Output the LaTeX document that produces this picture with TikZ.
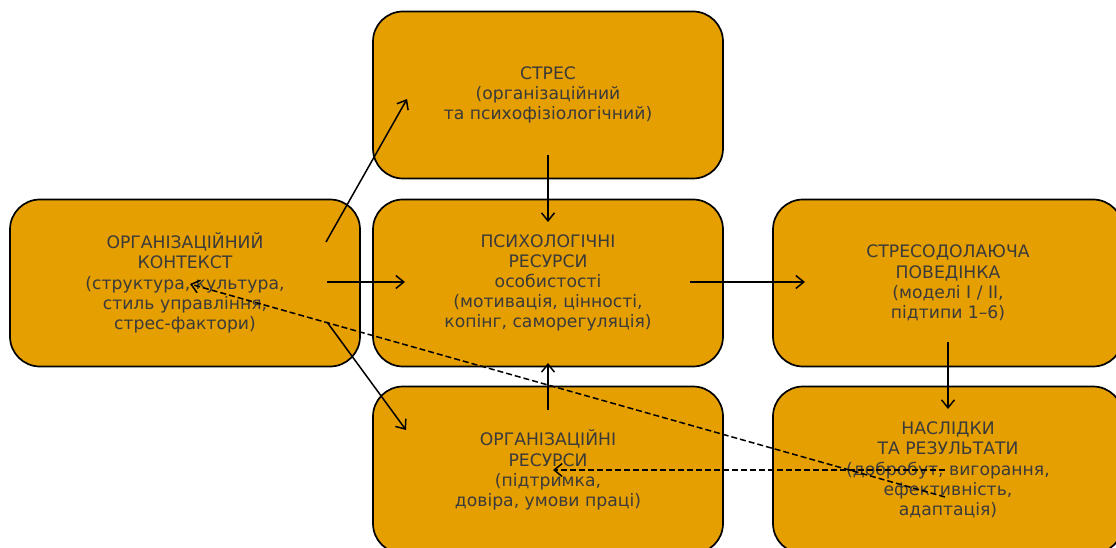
\documentclass[tikz,border=0pt]{standalone}
\usepackage{fontspec}
\setmainfont{DejaVu Sans}
\usetikzlibrary{arrows.meta}
\definecolor{boxfill}{HTML}{E69F00}
\definecolor{boxtext}{HTML}{3A3A3A}
\tikzset{box/.style={draw=black, line width=1.7pt, fill=boxfill, rounded corners=30pt, minimum width=350pt, minimum height=167pt, text=boxtext, align=center, font=\fontsize{17.2}{20.2}\selectfont},
link/.style={-{Straight Barb[length=8pt,width=13pt]}, line width=1.5pt},
back/.style={link, dash pattern=on 6pt off 3pt}}
\begin{document}
\begin{tikzpicture}[x=1pt,y=-1pt]
\useasboundingbox (0,0) rectangle (1116,548);
\node[box] (ctx) at (185,283) {ОРГАНІЗАЦІЙНИЙ\\КОНТЕКСТ\\(структура, культура,\\стиль управління,\\стрес-фактори)};
\node[box] (stress) at (548,95) {СТРЕС\\(організаційний\\та психофізіологічний)};
\node[box] (psy) at (548,283) {ПСИХОЛОГІЧНІ\\РЕСУРСИ\\особистості\\(мотивація, цінності,\\копінг, саморегуляція)};
\node[box] (orgres) at (548,470) {ОРГАНІЗАЦІЙНІ\\РЕСУРСИ\\(підтримка,\\довіра, умови праці)};
\node[box] (cope) at (948,283) {СТРЕСОДОЛАЮЧА\\ПОВЕДІНКА\\(моделі I / II,\\підтипи 1–6)};
\node[box] (out) at (948,470) {НАСЛІДКИ\\ТА РЕЗУЛЬТАТИ\\(добробут, вигорання,\\ефективність,\\адаптація)};
\foreach \a/\sa/\b/\sb in {ctx/{141,-41}/stress/{-141,4}, ctx/{142,-1}/psy/{-143,-1}, ctx/{142,39}/orgres/{-142,-40}, stress/{0,60}/psy/{0,-61}, psy/{142,-1}/cope/{-143,-1}, cope/{0,59}/out/{0,-61}, orgres/{0,-60}/psy/{0,80}}
  \draw[link] ([shift={(\sa)}]\a.center) -- ([shift={(\sb)}]\b.center);
\draw[back] ([shift={(-3,0)}]out.center) -- ([shift={(5,0)}]orgres.center);
\draw[back] ([shift={(-3,27)}]out.center) -- ([shift={(5,1)}]ctx.center);
\end{tikzpicture}
\end{document}
